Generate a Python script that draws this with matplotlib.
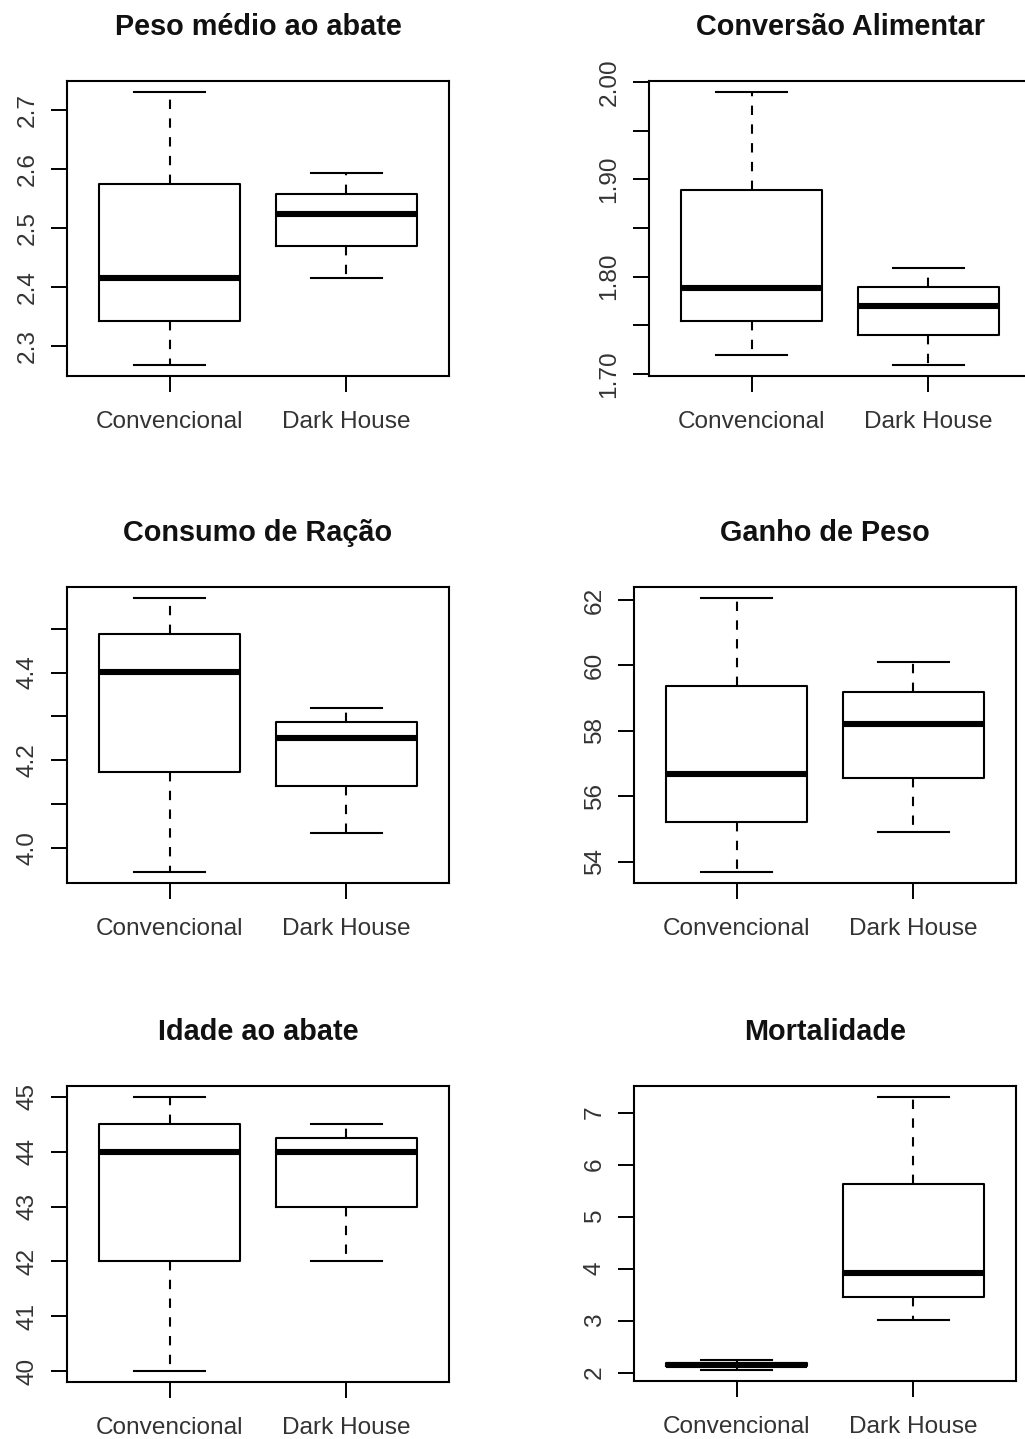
"""
Boxplots: Convencional vs Dark House (six indicators, R-style base graphics look)
"""

import matplotlib
matplotlib.use("Agg")
import matplotlib.pyplot as plt

plt.rcParams["font.family"] = ["Liberation Sans", "DejaVu Sans"]

groups = ["Convencional", "Dark House"]

# five-number summaries per group: whislo, q1, med, q3, whishi
peso_medio = [[2.267, 2.341, 2.415, 2.574, 2.730], [2.415, 2.469, 2.523, 2.557, 2.592]]
conversao = [[1.719, 1.754, 1.788, 1.889, 1.990], [1.709, 1.740, 1.770, 1.789, 1.809]]
consumo = [[3.945, 4.173, 4.401, 4.488, 4.570], [4.033, 4.142, 4.251, 4.288, 4.319]]
ganho = [[53.68, 55.20, 56.67, 59.37, 62.06], [54.90, 56.57, 58.20, 59.18, 60.10]]
idade = [[40.0, 42.0, 44.0, 44.5, 45.0], [42.0, 43.0, 44.0, 44.25, 44.5]]
mortalidade = [[2.05, 2.12, 2.155, 2.19, 2.24], [3.02, 3.46, 3.91, 5.63, 7.30]]

titles = ["Peso médio ao abate", "Conversão Alimentar", "Consumo de Ração",
          "Ganho de Peso", "Idade ao abate", "Mortalidade"]
series = [peso_medio, conversao, consumo, ganho, idade, mortalidade]

# y ticks (all) and which of them carry labels
yticks = [[2.3, 2.4, 2.5, 2.6, 2.7],
          [1.70, 1.75, 1.80, 1.85, 1.90, 1.95, 2.00],
          [4.0, 4.1, 4.2, 4.3, 4.4, 4.5],
          [54, 56, 58, 60, 62],
          [40, 41, 42, 43, 44, 45],
          [2, 3, 4, 5, 6, 7]]
ylabels = [["2.3", "2.4", "2.5", "2.6", "2.7"],
           ["1.70", "", "1.80", "", "1.90", "", "2.00"],
           ["4.0", "", "4.2", "", "4.4", ""],
           ["54", "56", "58", "60", "62"],
           ["40", "41", "42", "43", "44", "45"],
           ["2", "3", "4", "5", "6", "7"]]

W, H = 1025, 1439
# axes rectangles in pixels: left, top, right, bottom
rects = [(67, 81, 449, 376), (649, 81, 1031, 376),
         (67, 587, 449, 883), (634, 587, 1016, 883),
         (67, 1086, 449, 1382), (634, 1086, 1016, 1381)]

fig = plt.figure(figsize=(W / 100, H / 100), dpi=100)

for i in range(6):
    l, t, r, b = rects[i]
    ax = fig.add_axes([l / W, (H - b) / H, (r - l) / W, (b - t) / H])

    stats = []
    for name, (lo, q1, med, q3, hi) in zip(groups, series[i]):
        stats.append({"label": name, "whislo": lo, "q1": q1, "med": med,
                      "q3": q3, "whishi": hi, "fliers": []})

    ax.bxp(stats, positions=[1, 2], widths=0.8, capwidths=0.4, showfliers=False,
           boxprops=dict(color="black", linewidth=1.5),
           medianprops=dict(color="black", linewidth=4.4, solid_capstyle="butt"),
           whiskerprops=dict(color="black", linewidth=1.5, linestyle=(0, (4.5, 4.5))),
           capprops=dict(color="black", linewidth=1.5))

    # R-like axis ranges: 4% padding
    lo = min(s[0] for s in series[i])
    hi = max(s[4] for s in series[i])
    pad = 0.04 * (hi - lo)
    ax.set_ylim(lo - pad, hi + pad)
    ax.set_xlim(0.42, 2.58)

    ax.set_xticks([1, 2])
    ax.set_xticklabels(groups)
    ax.set_yticks(yticks[i])
    ax.set_yticklabels(ylabels[i], rotation=90, va="center")

    ax.tick_params(direction="out", length=11.5, width=1.4, labelsize=17.6,
                   labelcolor="#333333", color="black")
    ax.tick_params(axis="x", pad=14)
    ax.tick_params(axis="y", pad=9)
    for sp in ax.spines.values():
        sp.set_linewidth(1.5)

    ax.text(0.5, 1 + 54 / (b - t), titles[i], transform=ax.transAxes,
            ha="center", va="center", fontsize=20.8, fontweight="bold", color="#111111")

plt.savefig("out.png", dpi=100)
